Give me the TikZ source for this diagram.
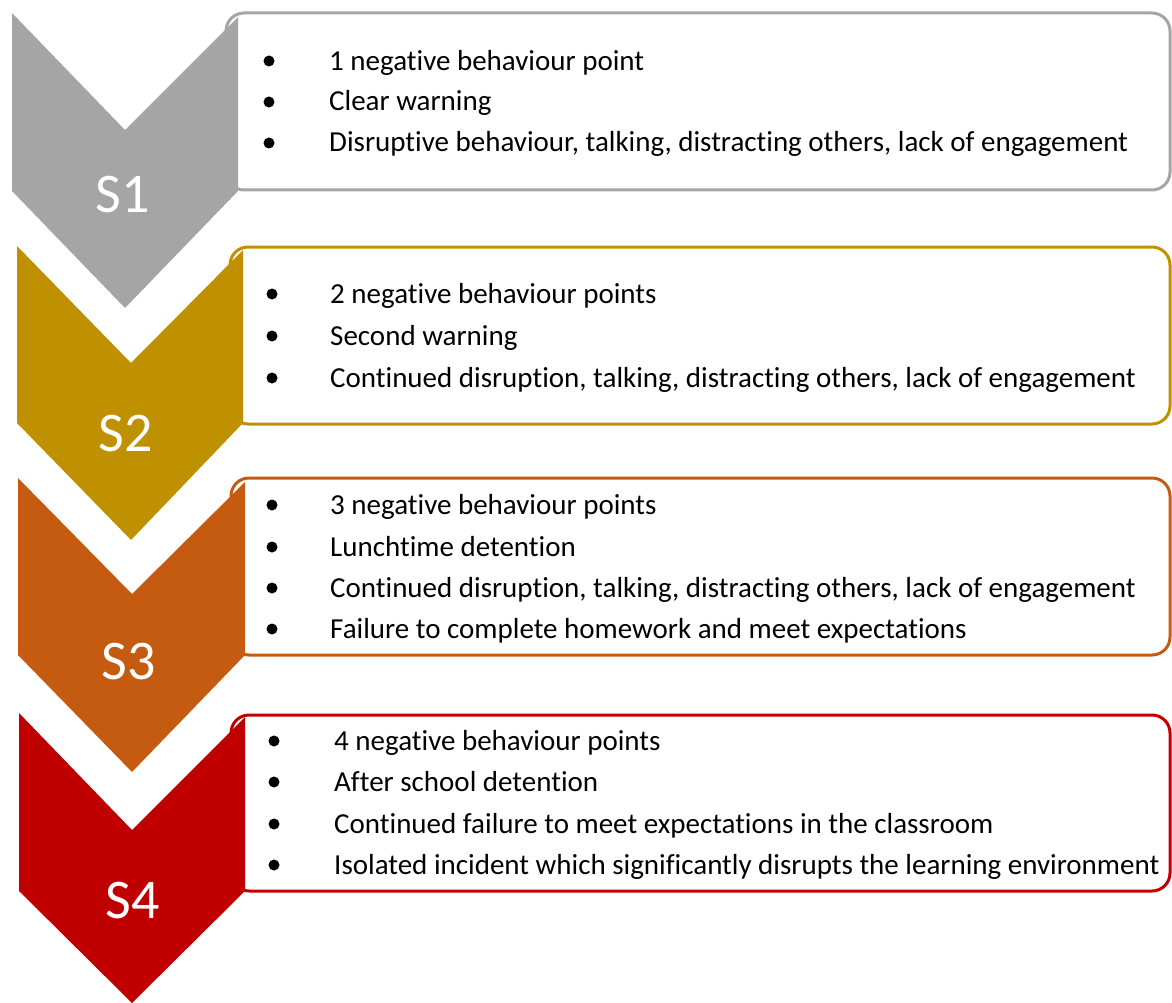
\documentclass[tikz,border=0pt]{standalone}
\usepackage{fontspec}
\setmainfont{Carlito}[Ligatures=NoCommon]
\definecolor{cgray}{HTML}{A5A5A5}
\definecolor{cgold}{HTML}{BF9000}
\definecolor{corange}{HTML}{C55A11}
\definecolor{cred}{HTML}{C00000}
\begin{document}
\begin{tikzpicture}[x=1pt,y=-1pt,
  stepbox/.style={line width=3pt, rounded corners=18pt, fill=white},
  item/.style={anchor=base west, inner sep=0pt, font=\fontsize{29}{33}\selectfont},
  bul/.style={circle, fill=black, inner sep=0pt, minimum size=11pt},
  slabel/.style={anchor=base, inner sep=0pt, text=white, font=\fontsize{56}{60}\selectfont}]
\useasboundingbox (0,0) rectangle (1172,1003);
% boxes
\draw[stepbox, draw=cgray]   (226,13)  rectangle (1170,190);
\draw[stepbox, draw=cgold]   (230,247) rectangle (1170,424);
\draw[stepbox, draw=corange] (231,478) rectangle (1170,655);
\draw[stepbox, draw=cred]    (231,715) rectangle (1170,891);
% chevrons
\fill[cgray]   (12,13) -- (125,130) -- (238,17) -- (238,191) -- (125,308) -- (12,191) -- cycle;
\fill[cgold]   (17,246) -- (131,363) -- (243,250) -- (243,423) -- (131,540) -- (17,423) -- cycle;
\fill[corange] (18,478) -- (132,594) -- (245,482) -- (245,655) -- (132,772) -- (18,655) -- cycle;
\fill[cred]    (19,713) -- (132,830) -- (245,717) -- (245,891) -- (132,1003) -- (19,891) -- cycle;
% labels
\node[slabel] (s1) at (123,212) {S1};
\node[slabel] (s2) at (126,451) {S2};
\node[slabel] (s3) at (129,679) {S3};
\node[slabel] (s4) at (133,918) {S4};
% box 1
\node[bul] (b11) at (269,61) {};
\node[bul] (b12) at (269,102) {};
\node[bul] (b13) at (269,143) {};
\node[item] (t11) at (329,70.5) {1 negative behaviour point};
\node[item] (t12) at (329,111) {Clear warning};
\node[item] (t13) at (329,152) {Disruptive behaviour, talking, distracting others, lack of engagement};
% box 2
\node[bul] (b21) at (272,294) {};
\node[bul] (b22) at (272,336) {};
\node[bul] (b23) at (272,378) {};
\node[item] (t21) at (330,303) {2 negative behaviour points};
\node[item] (t22) at (330,345) {Second warning};
\node[item] (t23) at (330,387) {Continued disruption, talking, distracting others, lack of engagement};
% box 3
\node[bul] (b31) at (272,505) {};
\node[bul] (b32) at (272,547) {};
\node[bul] (b33) at (272,588) {};
\node[bul] (b34) at (272,629) {};
\node[item] (t31) at (330,514) {3 negative behaviour points};
\node[item] (t32) at (330,556) {Lunchtime detention};
\node[item] (t33) at (330,597) {Continued disruption, talking, distracting others, lack of engagement};
\node[item] (t34) at (330,638) {Failure to complete homework and meet expectations};
% box 4
\node[bul] (b41) at (274,741) {};
\node[bul] (b42) at (274,782) {};
\node[bul] (b43) at (274,824) {};
\node[bul] (b44) at (274,865) {};
\node[item] (t41) at (334,750) {4 negative behaviour points};
\node[item] (t42) at (334,791) {After school detention};
\node[item] (t43) at (334,833) {Continued failure to meet expectations in the classroom};
\node[item] (t44) at (334,874) {Isolated incident which significantly disrupts the learning environment};
\end{tikzpicture}
\end{document}
